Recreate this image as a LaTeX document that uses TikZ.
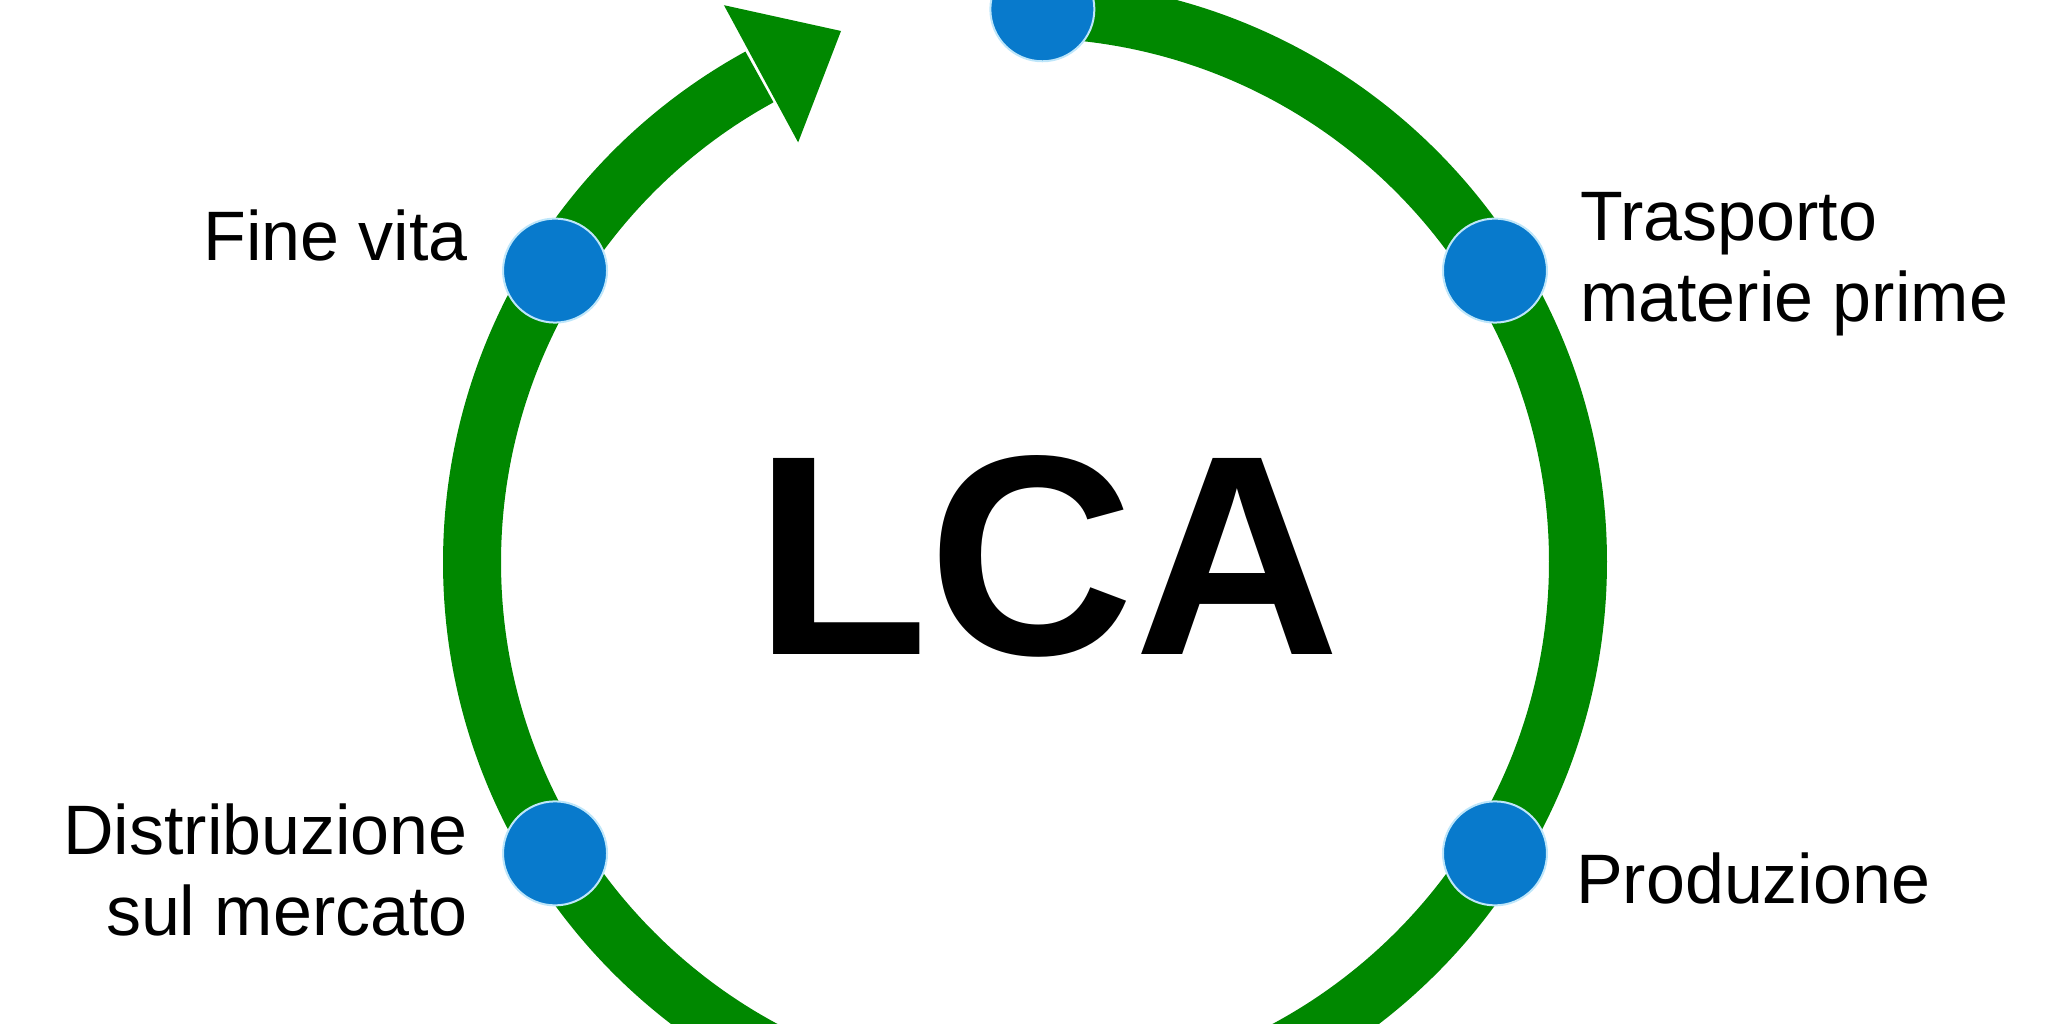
\documentclass[tikz,border=0pt]{standalone}
\usepackage{fontspec}
\setmainfont{Liberation Sans}
\usetikzlibrary{calc}
\definecolor{ringgreen}{RGB}{0,136,0}
\definecolor{dotblue}{RGB}{8,122,204}
\definecolor{dotedge}{RGB}{190,230,250}
\begin{document}
\begin{tikzpicture}[x=1pt,y=1pt,
  ring/.style={draw=ringgreen, line width=58pt},
  stage/.style={circle, fill=dotblue, draw=dotedge, line width=2pt, minimum size=104pt, inner sep=0pt},
  lbl/.style={inner sep=0pt, font=\fontsize{70}{81}\selectfont},
  title/.style={inner sep=0pt, font=\fontsize{285}{285}\selectfont\bfseries}]
\useasboundingbox (0,0) rectangle (2048,1024);
\clip (0,0) rectangle (2048,1024);
\coordinate (c) at (1025,462);
% ring with arrow
\draw[ring] ($(c)+(88.2:553)$) arc[start angle=88.2, end angle=-241.3, radius=553];
\coordinate (hb1) at ($(c)+(118.4:477)$);
\coordinate (hb2) at ($(c)+(118.4:633)$);
\coordinate (tip) at (841,993);
\fill[ringgreen] (hb1) -- (hb2) -- (tip) -- cycle;
% stages
\node[stage] (top) at ($(c)+(88.2:553)$) {};
\node[stage] (tras) at ($(c)+(31.8:553)$) {};
\node[stage] (prod) at ($(c)+(-31.8:553)$) {};
\node[stage] (dist) at ($(c)+(211.8:553)$) {};
\node[stage] (fine) at ($(c)+(148.2:553)$) {};
% labels
\node[lbl, anchor=base east] (lfine) at (468,763) {Fine vita};
\node[lbl, anchor=base east] (ldist) at (468,169) {\begin{tabular}[t]{@{}r@{}}Distribuzione\\sul mercato\end{tabular}};
\node[lbl, anchor=base west] (ltras) at (1580,783) {\begin{tabular}[t]{@{}l@{}}Trasporto\\materie prime\end{tabular}};
\node[lbl, anchor=base west] (lprod) at (1576,120) {Produzione};
\node[title, anchor=base] (lca) at (1047,369) {LCA};
\end{tikzpicture}
\end{document}
